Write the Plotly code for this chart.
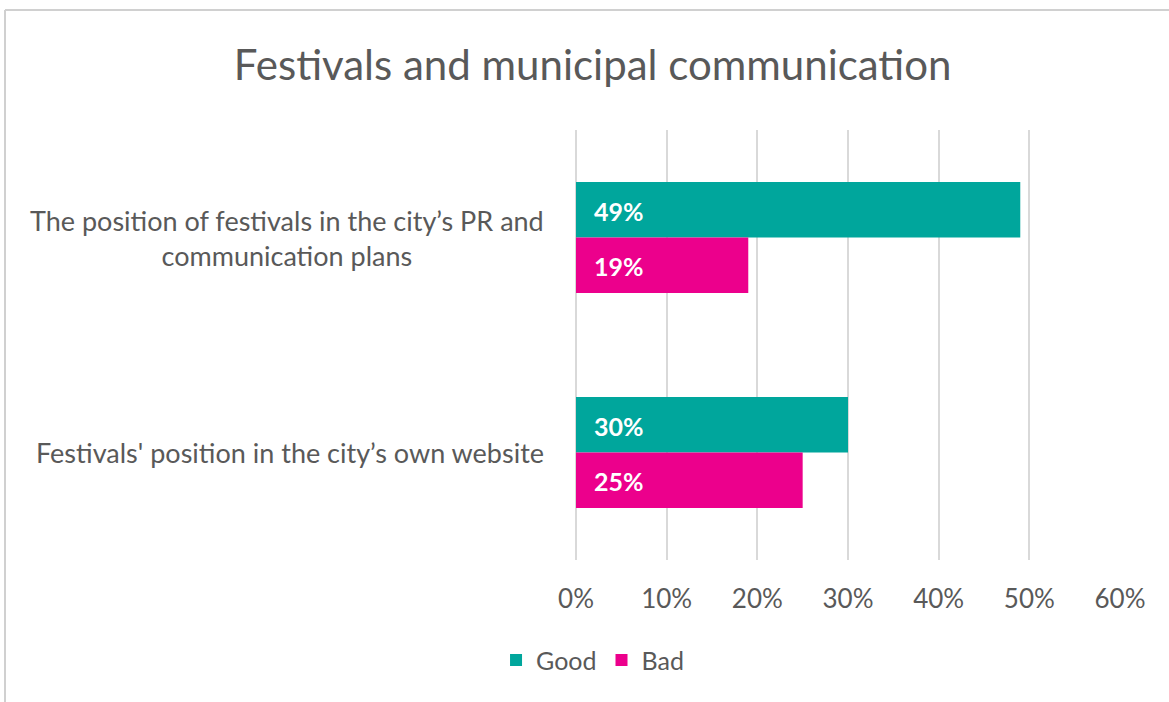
import plotly.graph_objects as go

# Survey results: share of respondents rating each aspect
categories = [
    "The position of festivals in the city\u2019s PR and<br>communication plans",
    "Festivals' position in the city\u2019s own website",
]
good = [49, 30]
bad = [19, 25]
series_names = ["Good", "Bad"]
series_colors = ["#00A69C", "#EC008C"]
x_ticks = [0, 10, 20, 30, 40, 50, 60]
x_tick_labels = [f"{t}%" for t in x_ticks]

FONT = "Lato, 'Open Sans', sans-serif"
TEXT_GRAY = "#595959"
GRID = "#D9D9D9"

fig = go.Figure()
for name, vals, color in zip(series_names, [good, bad], series_colors):
    fig.add_trace(go.Bar(
        y=categories, x=vals, name=name, orientation="h",
        marker=dict(color=color, line=dict(width=0)),
        hoverinfo="skip",
    ))

# Value labels at the start of each bar
annotations = []
for i, vals in enumerate([good, bad]):
    shift = 27 if i == 0 else -28
    for cat, v in zip(categories, vals):
        annotations.append(dict(
            x=0, y=cat, xref="x", yref="y", text=f"<b>{v}%</b>",
            showarrow=False, xanchor="left", yanchor="middle",
            xshift=16, yshift=shift,
            font=dict(family=FONT, size=25, color="white"),
        ))

# Category labels, centred multi-line text left of the axis
for cat in categories:
    annotations.append(dict(
        x=0, y=cat, xref="paper", yref="y", text=cat,
        showarrow=False, xanchor="right", yanchor="middle", align="center",
        xshift=-30,
        font=dict(family=FONT, size=27, color=TEXT_GRAY),
    ))

fig.update_layout(
    width=1169, height=702,
    margin=dict(l=576, r=49, t=130, b=142),
    paper_bgcolor="white", plot_bgcolor="white",
    barmode="group", bargap=0.484, bargroupgap=0,
    title=dict(
        text="Festivals and municipal communication",
        x=0.507, xref="container", xanchor="center",
        y=1 - 65 / 702, yref="container", yanchor="middle",
        font=dict(family=FONT, size=42, color=TEXT_GRAY),
    ),
    xaxis=dict(
        range=[0, 60], tickvals=x_ticks, ticktext=x_tick_labels,
        showgrid=True, gridcolor=GRID, gridwidth=2,
        zeroline=True, zerolinecolor=GRID, zerolinewidth=2, showline=False,
        ticks="outside", ticklen=16, tickcolor="rgba(0,0,0,0)",
        tickfont=dict(family=FONT, size=26, color=TEXT_GRAY),
        fixedrange=True,
    ),
    yaxis=dict(
        autorange="reversed", showticklabels=False, showgrid=False,
        zeroline=False, showline=False, fixedrange=True,
    ),
    legend=dict(
        orientation="h", x=-0.147, xanchor="left", y=-0.233, yanchor="middle",
        font=dict(family=FONT, size=25, color=TEXT_GRAY),
        itemwidth=30, traceorder="normal",
    ),
    annotations=annotations,
    shapes=[
        # outer chart frame (top and left edges)
        dict(type="line", xref="paper", yref="paper",
             x0=(5 - 576) / 544, x1=(1169 - 576) / 544,
             y0=(560 - 10) / 430, y1=(560 - 10) / 430,
             line=dict(color="#D0D0D0", width=2)),
        dict(type="line", xref="paper", yref="paper",
             x0=(5 - 576) / 544, x1=(5 - 576) / 544,
             y0=(560 - 10) / 430, y1=(560 - 702) / 430,
             line=dict(color="#D0D0D0", width=2)),
    ],
    showlegend=True,
)

fig.write_html("out.html", config={"displayModeBar": False})
